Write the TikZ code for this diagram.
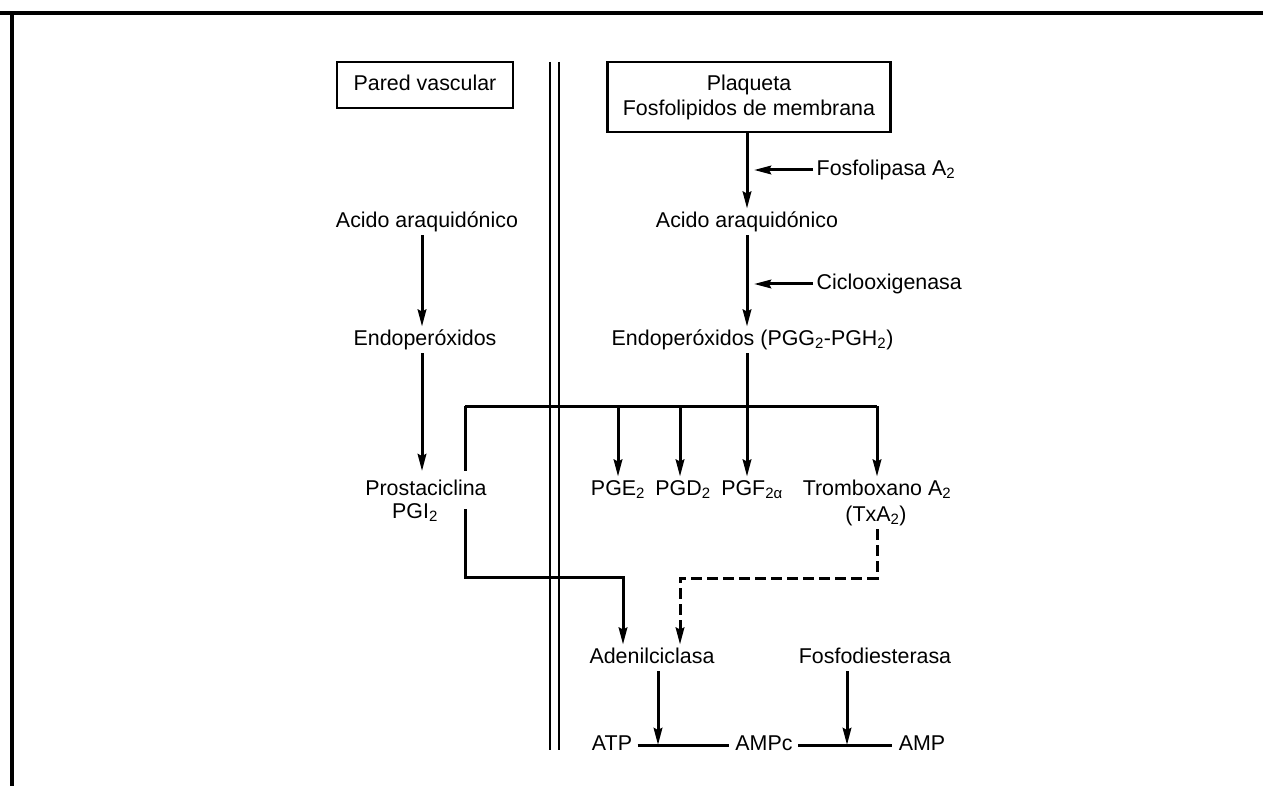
\documentclass[tikz,border=0pt]{standalone}
\usepackage{fontspec}
\setmainfont{Liberation Sans}
\usetikzlibrary{arrows.meta,calc}
\begin{document}
\begin{tikzpicture}[x=1pt,y=-1pt,
  txt/.style={font=\fontsize{21.4}{25}\selectfont, text height=15pt, text depth=4.5pt, inner sep=3.5pt},
  boxed/.style={txt, draw, line width=2.4pt, align=center},
  conn/.style={line width=3pt},
  arr/.style={conn, -{Stealth[length=17pt,width=8.5pt,inset=2pt]}},
  dashedconn/.style={conn, dash pattern=on 11pt off 5pt},
  frame/.style={line width=3.4pt},
  wall/.style={line width=1.8pt}]
\useasboundingbox (0,0) rectangle (1263,786);
% frame
\draw[frame] (0,13) -- (1263,13);
\draw[frame] (12,11.3) -- (12,786);
% membrane double line
\coordinate (wa1) at (550,62); \coordinate (wa2) at (550,750);
\coordinate (wb1) at (559,62); \coordinate (wb2) at (559,750);
\draw[wall] (wa1) -- (wa2);
\draw[wall] (wb1) -- (wb2);
% boxes
\node[boxed, minimum width=176pt, minimum height=46pt] (pared) at (425,85) {Pared vascular};
\node[boxed, minimum width=283pt, minimum height=70pt, text height=, text depth=] (plaq) at (749,97) {Plaqueta\\Fosfolipidos de membrana};
% right column
\node[txt] (acR) at (747,222) {Acido araquidónico};
\node[txt, anchor=west] (fosfo) at (813,170) {Fosfolipasa A\textsubscript{2}};
\node[txt, anchor=west] (cox) at (813,284) {Ciclooxigenasa};
\node[txt, anchor=west] (endoR) at (608,340) {Endoperóxidos (PGG\textsubscript{2}-PGH\textsubscript{2})};
% left column
\node[txt] (acL) at (427,222) {Acido araquidónico};
\node[txt] (endoL) at (425,340) {Endoperóxidos};
% products
\node[txt] (pge) at (618,490) {PGE\textsubscript{2}};
\node[txt] (pgd) at (683,490) {PGD\textsubscript{2}};
\node[txt] (pgf) at (752,490) {PGF\textsubscript{2α}};
\node[txt] (trom) at (877,490) {Tromboxano A\textsubscript{2}};
\node[txt] (txa) at (876,516) {(TxA\textsubscript{2})};
% bottom
\node[txt] (aden) at (652,658) {Adenilciclasa};
\node[txt] (fosd) at (875,658) {Fosfodiesterasa};
\node[txt] (atp) at (612,745) {ATP};
\node[txt] (ampc) at (764,745) {AMPc};
\node[txt] (amp) at (922,745) {AMP};
% bar
\coordinate (barL) at (465,406);
\coordinate (barR) at (877,406);
\coordinate (barC) at (747,406);
\coordinate (lowL) at (465,577);
\coordinate (lowR) at (877,578);
% routes to adenilciclasa
\draw[arr] (barL) -- (lowL) -| ([xshift=-29pt]aden.north);
\draw[dashedconn, -{Stealth[length=17pt,width=8.5pt,inset=2pt]}] (txa.south -| barR) -- (lowR) -| ([xshift=28pt]aden.north);
% prostaciclina over the route line
\node[txt, fill=white, inner ysep=9pt, inner xsep=2pt] (prost) at (426,490) {Prostaciclina};
\node[txt] (pgi) at (415,513) {PGI\textsubscript{2}};
% bar and branches
\draw[conn] (barL) -- (barR);
\draw[arr] (plaq.south -| acR) -- (acR.north);
\draw[arr] (fosfo.west) -- ([xshift=7pt]fosfo.west -| acR);
\draw[arr] (acR.south) -- (acR.south |- endoR.north);
\draw[arr] (cox.west) -- ([xshift=7pt]cox.west -| acR);
\draw[conn] (endoR.south -| acR) -- (barC);
\draw[arr] (barC) -- (barC |- pgf.north);
\draw[arr] (pge.north |- barL) -- (pge.north);
\draw[arr] ([xshift=-3pt]pgd.north |- barL) -- ([xshift=-3pt]pgd.north);
\draw[arr] (barR) -- (barR |- trom.north);
% left column arrows
\draw[arr] ([xshift=-5pt]acL.south) -- ([xshift=-5pt]acL.south |- endoL.north);
\draw[arr] ([xshift=-5pt]acL.south |- endoL.south) -- ([xshift=-5pt]acL.south |- prost.north);
% cAMP
\draw[arr] ([xshift=6pt]aden.south) -- ([xshift=6pt]aden.south |- atp.east);
\draw[conn] ([xshift=2pt]atp.east) -- ([xshift=-3pt]ampc.west);
\draw[arr] ([xshift=-28pt]fosd.south) -- ([xshift=-28pt]fosd.south |- ampc.east);
\draw[conn] ([xshift=2pt]ampc.east) -- ([xshift=-3pt]amp.west);
\end{tikzpicture}
\end{document}
